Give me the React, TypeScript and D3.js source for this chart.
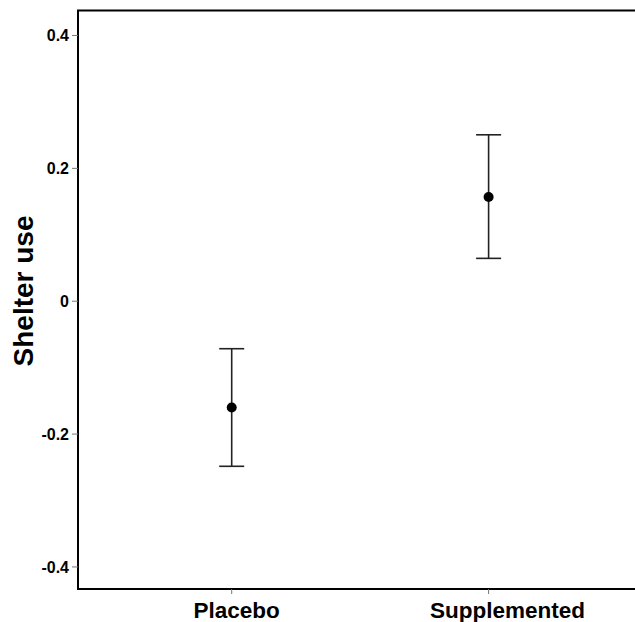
import React, { useEffect, useRef } from "react";
import * as d3 from "d3";

const groups = ["Placebo", "Supplemented"];
const means = [-0.16, 0.157];
const upper = [-0.0715, 0.2505];
const lower = [-0.2485, 0.0645];
const yTicks = [-0.4, -0.2, 0, 0.2, 0.4];
const labelShift = [5, 19];

export default function App() {
  const svgRef = useRef<SVGSVGElement>(null);

  useEffect(() => {
    const svg = d3.select(svgRef.current);
    svg.selectAll("*").remove();

    const width = 635, height = 622;
    const left = 78, top = 10.5, bottom = 589;
    const font = "Arial, 'Liberation Sans', Helvetica, sans-serif";

    const y = d3.scaleLinear().domain([-0.4332, 0.4376]).range([bottom, top]);
    const x = d3.scalePoint().domain(groups).range([231.7, 488.6]);

    svg.attr("width", width).attr("height", height);

    // frame: left, top, bottom
    svg.append("path")
      .attr("d", `M${width},${top}H${left}V${bottom}H${width}`)
      .attr("fill", "none")
      .attr("stroke", "#000")
      .attr("stroke-width", 2);

    // y ticks
    yTicks.forEach(t => {
      svg.append("line")
        .attr("x1", left - 6).attr("x2", left)
        .attr("y1", y(t)).attr("y2", y(t))
        .attr("stroke", "#777").attr("stroke-width", 1);
      svg.append("text")
        .attr("x", 69).attr("y", y(t))
        .attr("dy", "0.36em")
        .attr("text-anchor", "end")
        .style("font-family", font)
        .style("font-weight", "bold")
        .style("font-size", "16px")
        .text(t === 0 ? "0" : t.toFixed(1));
    });

    // x ticks + labels
    groups.forEach((g, i) => {
      svg.append("line")
        .attr("x1", x(g)).attr("x2", x(g))
        .attr("y1", bottom).attr("y2", bottom + 5)
        .attr("stroke", "#777").attr("stroke-width", 1);
      svg.append("text")
        .attr("x", (x(g) as number) + labelShift[i]).attr("y", 618)
        .attr("text-anchor", "middle")
        .style("font-family", font)
        .style("font-weight", "bold")
        .style("font-size", "22.5px")
        .text(g);
    });

    // y title
    svg.append("text")
      .attr("transform", `translate(33,291) rotate(-90)`)
      .attr("text-anchor", "middle")
      .style("font-family", font)
      .style("font-weight", "bold")
      .style("font-size", "28px")
      .text("Shelter use");

    // error bars
    groups.forEach((g, i) => {
      const cx = x(g) as number;
      const e = svg.append("g").attr("stroke", "#222").attr("stroke-width", 1.6);
      e.append("line").attr("x1", cx).attr("x2", cx).attr("y1", y(upper[i])).attr("y2", y(lower[i]));
      e.append("line").attr("x1", cx - 12.5).attr("x2", cx + 12.5).attr("y1", y(upper[i])).attr("y2", y(upper[i]));
      e.append("line").attr("x1", cx - 12.5).attr("x2", cx + 12.5).attr("y1", y(lower[i])).attr("y2", y(lower[i]));
      svg.append("circle").attr("cx", cx).attr("cy", y(means[i])).attr("r", 5).attr("fill", "#000");
    });
  }, []);

  return (
    <svg ref={svgRef} style={{ position: "absolute", left: 0, top: 0, display: "block" }}></svg>
  );
}
